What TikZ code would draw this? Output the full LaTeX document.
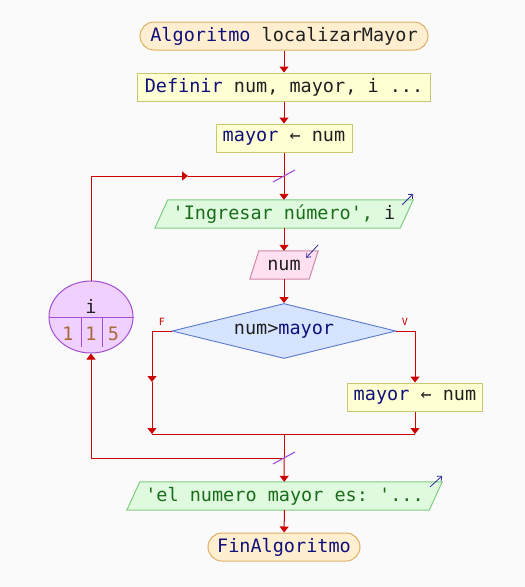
\documentclass[tikz,border=0pt]{standalone}
\usepackage{fontspec}
\setmonofont{DejaVu Sans Mono}
\usetikzlibrary{arrows.meta,shapes.geometric,calc,backgrounds}

\definecolor{canvas}{HTML}{FAFAFA}
\definecolor{flowc}{HTML}{CC0000}
\definecolor{kw}{HTML}{10107A}
\definecolor{plain}{HTML}{202020}
\definecolor{strtxt}{HTML}{1A6E1A}
\definecolor{termfill}{HTML}{FFEFD0}
\definecolor{termline}{HTML}{DDB064}
\definecolor{procfill}{HTML}{FFFFD4}
\definecolor{procline}{HTML}{C8C874}
\definecolor{iofill}{HTML}{E0FAE0}
\definecolor{ioline}{HTML}{80CC80}
\definecolor{rdfill}{HTML}{FFE0F0}
\definecolor{rdline}{HTML}{D088A8}
\definecolor{decfill}{HTML}{D6E4FF}
\definecolor{decline}{HTML}{5A78D0}
\definecolor{cntfill}{HTML}{F0D0FF}
\definecolor{cntline}{HTML}{A050D0}
\definecolor{digit}{HTML}{A86838}
\definecolor{iconc}{HTML}{3030A0}
\definecolor{slashc}{HTML}{A050E0}

\tikzset{
  base/.style={font=\ttfamily\fontsize{18.5}{20}\selectfont, text=plain, inner sep=0pt,
    minimum height=28pt, align=center},
  term/.style={base, draw=termline, fill=termfill, rounded corners=14pt, line width=1pt},
  proc/.style={base, draw=procline, fill=procfill, line width=1pt},
  slot/.style={base},
  decision/.style={base, diamond, draw=decline, fill=decfill, line width=0.9pt,
    minimum width=224pt, minimum height=55pt, aspect=4},
  counter/.style={ellipse, draw=cntline, fill=cntfill, line width=1pt,
    minimum width=84pt, minimum height=72pt, inner sep=0pt},
  cell/.style={font=\ttfamily\fontsize{18.5}{20}\selectfont, text=plain, inner sep=0pt},
  flow/.style={draw=flowc, line width=1pt},
  arr/.style={flow, -{Triangle[width=9pt,length=6pt]}},
  slash/.style={draw=slashc, line width=1.1pt},
  icon/.style={draw=iconc, line width=0.8pt, -{Straight Barb[length=3.5pt,width=6pt]}},
  lbl/.style={text=flowc, font=\ttfamily\fontsize{10}{10}\selectfont, inner sep=0pt},
}

% slanted box drawn behind a named text holder: #1 node, #2 half slant, #3 fill, #4 border
\newcommand\slantbox[4]{%
  \draw[line width=1pt, draw=#4, fill=#3]
    ($(#1.south west)+(-#2,0)$) -- ($(#1.north west)+(#2,0)$) --
    ($(#1.north east)+(#2,0)$) -- ($(#1.south east)+(-#2,0)$) -- cycle;}

\begin{document}
\begin{tikzpicture}[x=1pt, y=-1pt]
  \begin{scope}[on background layer]
    \fill[canvas] (0,0) rectangle (525,587);
  \end{scope}
  \useasboundingbox (0,0) rectangle (525,587);

  % blocks
  \node[term, minimum width=288pt] (start) at (284,36)
    {\textcolor{kw}{Algoritmo} localizarMayor};
  \node[proc, minimum width=293pt] (def) at (284,87)
    {\textcolor{kw}{Definir} num, mayor, i ...};
  \node[proc, minimum width=136pt] (init) at (284,138)
    {\textcolor{kw}{mayor} ← num};
  \node[slot, minimum width=245pt] (in1) at (284,214)
    {\textcolor{strtxt}{'Ingresar número',} i};
  \node[slot, minimum width=59pt] (rd) at (284,265) {num};
  \node[decision] (dec) at (284,331) {num>\textcolor{kw}{mayor}};
  \node[proc, minimum width=135pt] (upd) at (415,397)
    {\textcolor{kw}{mayor} ← num};
  \node[slot, minimum width=302pt] (out) at (284.5,496)
    {\textcolor{strtxt}{'el numero mayor es: '...}};
  \node[term, minimum width=152pt] (fin) at (284,547)
    {\textcolor{kw}{FinAlgoritmo}};

  \begin{scope}[on background layer]
    \slantbox{in1}{6.5}{iofill}{ioline}
    \slantbox{rd}{4.5}{rdfill}{rdline}
    \slantbox{out}{6.5}{iofill}{ioline}
  \end{scope}

  % loop counter
  \node[counter] (cnt) at (91,317) {};
  \draw[cntline, line width=1pt] (cnt.west) -- (cnt.east);
  \draw[cntline, line width=1pt] (81,317) -- (81,347);
  \draw[cntline, line width=1pt] (102,317) -- (102,347);
  \node[cell] (cvar) at (91,306) {i};
  \node[cell, text=digit] (cfrom) at (68,334) {1};
  \node[cell, text=digit] (cstep) at (91,334) {1};
  \node[cell, text=digit] (cto) at (113.5,334) {5};

  % input / output markers
  \draw[icon] ($(in1.north east)+(-4.5,5)$) -- ($(in1.north east)+(6.5,-6)$);
  \draw[icon] ($(rd.north east)+(4.5,-6)$) -- ($(rd.north east)+(-7.5,7)$);
  \draw[icon] ($(out.north east)+(-5.5,5)$) -- ($(out.north east)+(6.5,-6)$);

  % junction points
  \coordinate (jtop) at (284,176);
  \coordinate (looptip) at (188,176);
  \coordinate (fmid) at (152,382);
  \coordinate (fend) at (152,434);
  \coordinate (vend) at (415,434);
  \coordinate (merge) at (284,434);
  \coordinate (jbot) at (284,458);

  % connectors
  \draw[arr] (start) -- (def);
  \draw[arr] (def) -- (init);
  \draw[flow] (init) -- (jtop);
  \draw[arr] (jtop) -- (in1);
  \draw[arr] (in1) -- (rd);
  \draw[arr] (rd) -- (dec);
  \draw[arr] (dec.west) -| (fmid);
  \draw[arr] (fmid) -- (fend);
  \draw[arr] (dec.east) -| (upd.north);
  \draw[arr] (upd) -- (vend);
  \draw[flow] (fend) -- (vend);
  \draw[flow] (merge) -- (jbot);
  \draw[arr] (jbot) -- (out);
  \draw[arr] (out) -- (fin);
  \draw[arr] (jbot) -| (cnt.south);
  \draw[arr] (cnt.north) |- (looptip);
  \draw[flow] (looptip) -- (jtop);

  % loop ticks
  \draw[slash] ($(jtop)+(-11,6)$) -- ($(jtop)+(11,-6)$);
  \draw[slash] ($(jbot)+(-11,6)$) -- ($(jbot)+(11,-6)$);

  % branch labels
  \node[lbl] (lf) at (162,322) {F};
  \node[lbl] (lv) at (405,322) {V};
\end{tikzpicture}
\end{document}
